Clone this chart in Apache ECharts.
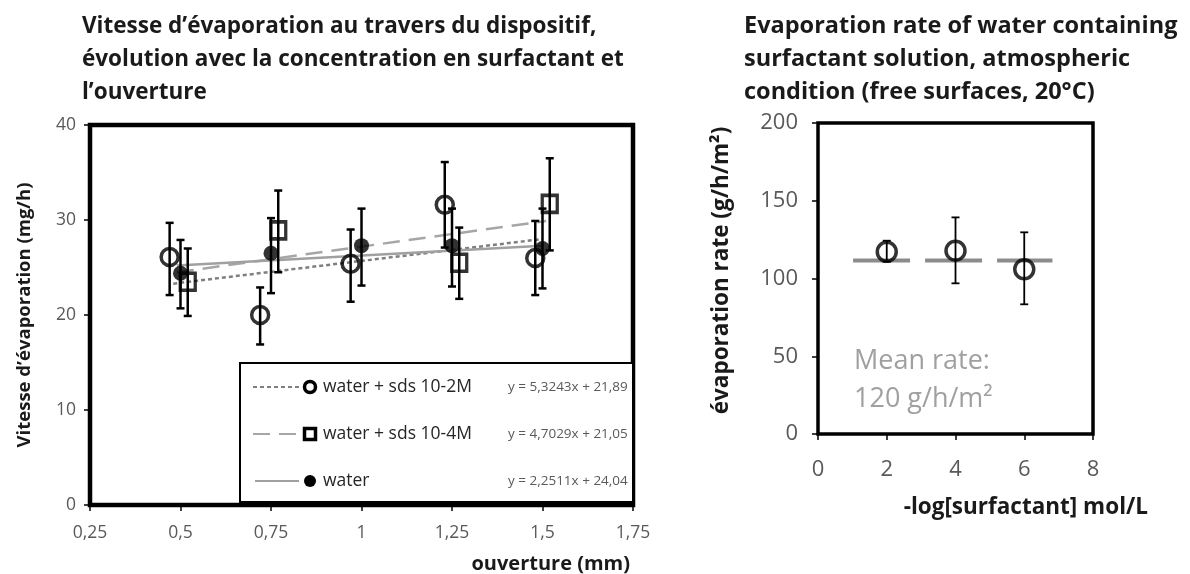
<!DOCTYPE html>
<html><head><meta charset="utf-8">
<script src="https://cdn.jsdelivr.net/npm/echarts@6/dist/echarts.min.js"></script>
<style>html,body{margin:0;padding:0;background:#fff}#c{width:1190px;height:574px}</style>
</head><body><div id="c"></div>
<script>
// ---------- Left chart data ----------
const leftTitle = 'Vitesse d’évaporation au travers du dispositif,\névolution avec la concentration en surfactant et\nl’ouverture';
const leftYName = 'Vitesse d’évaporation (mg/h)';
const leftXName = 'ouverture (mm)';

const sds2Name = 'water + sds 10-2M';
const sds2X  = [0.47, 0.72, 0.97, 1.23, 1.48];
const sds2Y  = [26.1, 20.0, 25.4, 31.6, 26.0];
const sds2Lo = [22.1, 16.9, 21.4, 27.1, 22.1];
const sds2Hi = [29.7, 22.9, 29.0, 36.1, 29.9];

const sds4Name = 'water + sds 10-4M';
const sds4X  = [0.52, 0.77, 1.27, 1.52];
const sds4Y  = [23.5, 28.9, 25.5, 31.7];
const sds4Lo = [19.9, 24.5, 21.7, 26.8];
const sds4Hi = [27.0, 33.1, 29.2, 36.5];

const waterName = 'water';
const waterX  = [0.50, 0.75, 1.00, 1.25, 1.50];
const waterY  = [24.4, 26.5, 27.3, 27.3, 27.0];
const waterLo = [20.7, 22.3, 23.1, 23.0, 22.8];
const waterHi = [27.9, 30.2, 31.2, 31.2, 31.2];

// trendline end points [x, y]
const sds2Trend  = [[0.48, 23.3], [1.50, 28.0]];
const sds4Trend  = [[0.49, 24.5], [1.51, 29.9]];
const waterTrend = [[0.49, 25.2], [1.50, 27.3]];

const sds2Eq  = 'y = 5,3243x + 21,89';
const sds4Eq  = 'y = 4,7029x + 21,05';
const waterEq = 'y = 2,2511x + 24,04';

// ---------- Right chart data ----------
const rightTitle = 'Evaporation rate of water containing\nsurfactant solution, atmospheric\ncondition (free surfaces, 20°C)';
const rightYName = 'évaporation rate (g/h/m²)';
const rightXName = '-log[surfactant] mol/L';
const surfX  = [2, 4, 6];
const surfY  = [117.2, 117.9, 105.9];
const surfLo = [110.8, 96.9, 83.4];
const surfHi = [124.3, 139.3, 129.7];
const meanLine = [[1.02, 111.5], [6.82, 111.5]];
const meanText = 'Mean rate:\n120 g/h/m²';

// ---------- helpers ----------
const zip = (xs, ys) => xs.map((x, i) => [x, ys[i]]);
const zipErr = (xs, lo, hi) => xs.map((x, i) => [x, lo[i], hi[i]]);
const FONT = 'Open Sans';

function errBar(cap, width) {
  return function (params, api) {
    const x = api.value(0);
    const lo = api.coord([x, api.value(1)]);
    const hi = api.coord([x, api.value(2)]);
    const st = { stroke: '#000', lineWidth: width };
    return {
      type: 'group',
      children: [
        { type: 'line', shape: { x1: lo[0], y1: lo[1], x2: hi[0], y2: hi[1] }, style: st },
        { type: 'line', shape: { x1: lo[0] - cap, y1: lo[1], x2: lo[0] + cap, y2: lo[1] }, style: st },
        { type: 'line', shape: { x1: hi[0] - cap, y1: hi[1], x2: hi[0] + cap, y2: hi[1] }, style: st }
      ]
    };
  };
}

const chart = echarts.init(document.getElementById('c'), null, { renderer: 'canvas' });

const axisLabelL = { color: '#595959', fontSize: 17.5, fontFamily: FONT };
const axisLabelR = { color: '#595959', fontSize: 22, fontFamily: FONT };

// legend graphics (left chart)
const LG = { x: 240, y: 363, w: 393, h: 139 };
const rows = [387, 434, 481];
const legFont = '17.5px "' + FONT + '"';
const eqFont = '13.5px "' + FONT + '"';
const legendGraphics = [
  { type: 'rect', shape: { x: LG.x, y: LG.y, width: LG.w, height: LG.h }, style: { fill: '#fff', stroke: '#000', lineWidth: 2 }, z: 100 },
  // row 1
  { type: 'line', shape: { x1: 253, y1: rows[0], x2: 299, y2: rows[0] }, style: { stroke: '#7f7f7f', lineWidth: 2, lineDash: [4, 3] }, z: 101 },
  { type: 'circle', shape: { cx: 310, cy: rows[0], r: 5.5 }, style: { fill: 'none', stroke: '#000', lineWidth: 3.5 }, z: 101 },
  { type: 'text', x: 323, y: rows[0], style: { text: sds2Name, fill: '#262626', font: legFont, verticalAlign: 'middle' }, z: 101 },
  { type: 'text', x: 508, y: rows[0], style: { text: sds2Eq, fill: '#595959', font: eqFont, verticalAlign: 'middle' }, z: 101 },
  // row 2
  { type: 'line', shape: { x1: 253, y1: rows[1], x2: 299, y2: rows[1] }, style: { stroke: '#a6a6a6', lineWidth: 2, lineDash: [17, 9] }, z: 101 },
  { type: 'rect', shape: { x: 304.5, y: rows[1] - 5.5, width: 11, height: 11 }, style: { fill: 'none', stroke: '#000', lineWidth: 3.5 }, z: 101 },
  { type: 'text', x: 323, y: rows[1], style: { text: sds4Name, fill: '#262626', font: legFont, verticalAlign: 'middle' }, z: 101 },
  { type: 'text', x: 508, y: rows[1], style: { text: sds4Eq, fill: '#595959', font: eqFont, verticalAlign: 'middle' }, z: 101 },
  // row 3
  { type: 'line', shape: { x1: 255, y1: rows[2], x2: 299, y2: rows[2] }, style: { stroke: '#a0a0a0', lineWidth: 2 }, z: 101 },
  { type: 'circle', shape: { cx: 310, cy: rows[2], r: 6 }, style: { fill: '#000' }, z: 101 },
  { type: 'text', x: 323, y: rows[2], style: { text: waterName, fill: '#262626', font: legFont, verticalAlign: 'middle' }, z: 101 },
  { type: 'text', x: 508, y: rows[2], style: { text: waterEq, fill: '#595959', font: eqFont, verticalAlign: 'middle' }, z: 101 },
  // mean text (right chart)
  { type: 'text', x: 854, y: 342, style: { text: meanText, fill: '#a0a0a0', font: '27px "' + FONT + '"', lineHeight: 38 }, z: 101 }
];

const titleStyleL = { fontFamily: FONT, fontWeight: 'bold', fontSize: 22.5, lineHeight: 33, color: '#1a1a1a' };
const titleStyleR = { fontFamily: FONT, fontWeight: 'bold', fontSize: 23.5, lineHeight: 33, color: '#1a1a1a' };
const nameStyle = { fontFamily: FONT, fontWeight: 'bold', color: '#1a1a1a' };

const option = {
  animation: false,
  backgroundColor: '#fff',
  title: [
    { text: leftTitle, left: 77, top: 5, textStyle: titleStyleL },
    { text: rightTitle, left: 739, top: 5, textStyle: titleStyleR }
  ],
  grid: [
    { left: 90, top: 125, width: 543, height: 380, show: true, borderColor: '#000', borderWidth: 4.5, backgroundColor: 'transparent' },
    { left: 818, top: 123, width: 275, height: 311, show: true, borderColor: '#000', borderWidth: 3.5, backgroundColor: 'transparent' }
  ],
  xAxis: [
    { gridIndex: 0, type: 'value', min: 0.25, max: 1.75, interval: 0.25,
      axisLine: { show: false }, splitLine: { show: false },
      axisTick: { show: true, length: 6, lineStyle: { color: '#000', width: 1.5 } },
      axisLabel: Object.assign({ margin: 19, formatter: v => String(v).replace('.', ',') }, axisLabelL),
      name: leftXName, nameLocation: 'end', nameGap: -3, nameMoveOverlap: false,
      nameTextStyle: Object.assign({ fontSize: 20, align: 'right', verticalAlign: 'top', padding: [49, 0, 0, 0] }, nameStyle) },
    { gridIndex: 1, type: 'value', min: 0, max: 8, interval: 2,
      axisLine: { show: false }, splitLine: { show: false },
      axisTick: { show: true, length: 6, lineStyle: { color: '#000', width: 1.5 } },
      axisLabel: Object.assign({ margin: 25 }, axisLabelR),
      name: rightXName, nameLocation: 'end', nameGap: 55, nameMoveOverlap: false,
      nameTextStyle: Object.assign({ fontSize: 22.5, align: 'right', verticalAlign: 'top', padding: [62, 0, 0, 0] }, nameStyle) }
  ],
  yAxis: [
    { gridIndex: 0, type: 'value', min: 0, max: 40, interval: 10,
      axisLine: { show: false }, splitLine: { show: false },
      axisTick: { show: true, length: 6, lineStyle: { color: '#000', width: 1.5 } },
      axisLabel: Object.assign({ margin: 14 }, axisLabelL),
      name: leftYName, nameLocation: 'middle', nameGap: 56, nameRotate: 90, nameMoveOverlap: false,
      nameTextStyle: Object.assign({ fontSize: 18.5 }, nameStyle) },
    { gridIndex: 1, type: 'value', min: 0, max: 200, interval: 50,
      axisLine: { show: false }, splitLine: { show: false },
      axisTick: { show: true, length: 6, lineStyle: { color: '#000', width: 1.5 } },
      axisLabel: Object.assign({ margin: 20 }, axisLabelR),
      name: rightYName, nameLocation: 'middle', nameGap: 85, nameRotate: 90, nameMoveOverlap: false,
      nameTextStyle: Object.assign({ fontSize: 22.5, padding: [0, 0, 0, 16] }, nameStyle) }
  ],
  series: [
    // trendlines
    { type: 'line', xAxisIndex: 0, yAxisIndex: 0, data: sds2Trend, showSymbol: false, z: 3,
      lineStyle: { color: '#7f7f7f', width: 2.5, type: [4, 3] } },
    { type: 'line', xAxisIndex: 0, yAxisIndex: 0, data: sds4Trend, showSymbol: false, z: 3,
      lineStyle: { color: '#a6a6a6', width: 2.5, type: [17, 9] } },
    { type: 'line', xAxisIndex: 0, yAxisIndex: 0, data: waterTrend, showSymbol: false, z: 3,
      lineStyle: { color: '#a0a0a0', width: 2.5, type: 'solid' } },
    // error bars
    { type: 'custom', xAxisIndex: 0, yAxisIndex: 0, data: zipErr(sds2X, sds2Lo, sds2Hi), renderItem: errBar(4, 2.5), z: 4 },
    { type: 'custom', xAxisIndex: 0, yAxisIndex: 0, data: zipErr(sds4X, sds4Lo, sds4Hi), renderItem: errBar(4, 2.5), z: 4 },
    { type: 'custom', xAxisIndex: 0, yAxisIndex: 0, data: zipErr(waterX, waterLo, waterHi), renderItem: errBar(4, 2.5), z: 4 },
    // markers
    { type: 'scatter', name: sds2Name, xAxisIndex: 0, yAxisIndex: 0, data: zip(sds2X, sds2Y), symbol: 'circle', symbolSize: 17, z: 5,
      itemStyle: { color: 'rgba(0,0,0,0)', borderColor: '#000', borderWidth: 3.5 } },
    { type: 'scatter', name: sds4Name, xAxisIndex: 0, yAxisIndex: 0, data: zip(sds4X, sds4Y), symbol: 'rect', symbolSize: [15, 17], z: 5,
      itemStyle: { color: 'rgba(0,0,0,0)', borderColor: '#000', borderWidth: 3.5 } },
    { type: 'scatter', name: waterName, xAxisIndex: 0, yAxisIndex: 0, data: zip(waterX, waterY), symbol: 'circle', symbolSize: 15, z: 5,
      itemStyle: { color: '#000' } },
    // right chart
    { type: 'line', xAxisIndex: 1, yAxisIndex: 1, data: meanLine, showSymbol: false, z: 3,
      lineStyle: { color: '#8c8c8c', width: 4, type: [57, 15] } },
    { type: 'custom', xAxisIndex: 1, yAxisIndex: 1, data: zipErr(surfX, surfLo, surfHi), renderItem: errBar(4, 1.8), z: 4 },
    { type: 'scatter', xAxisIndex: 1, yAxisIndex: 1, data: zip(surfX, surfY), symbol: 'circle', symbolSize: 19, z: 5,
      itemStyle: { color: 'rgba(0,0,0,0)', borderColor: '#000', borderWidth: 3.5 } }
  ],
  graphic: legendGraphics
};
chart.setOption(option);
</script>
</body></html>
